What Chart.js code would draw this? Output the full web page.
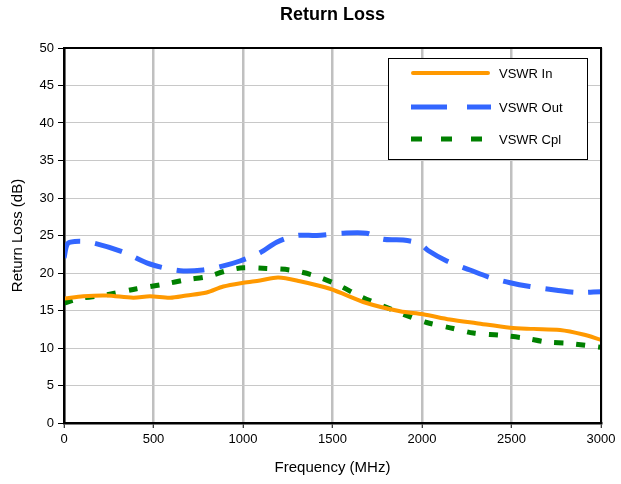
<!DOCTYPE html>
<html>
<head>
<meta charset="utf-8">
<script src="https://cdn.jsdelivr.net/npm/chart.js@4"></script>
<style>
  html, body { margin: 0; padding: 0; background: #fff; }
  #chart { display: block; }
</style>
</head>
<body>
<canvas id="chart" width="621" height="484"></canvas>
<script>
// 데이터
const chartTitle = 'Return Loss';
const xTitle = 'Frequency (MHz)';
const yTitle = 'Return Loss (dB)';

const inFreq = [5, 108, 238, 387, 480, 592, 685, 797, 890, 1002, 1095, 1197, 1318, 1486, 1690, 1877, 2006, 2156, 2305, 2492, 2622, 2771, 2901, 3000];
const inVals = [16.6, 16.9, 17.0, 16.7, 16.9, 16.7, 17.0, 17.4, 18.2, 18.7, 19.0, 19.4, 18.9, 17.9, 16.0, 14.9, 14.5, 13.8, 13.3, 12.7, 12.55, 12.4, 11.8, 11.1];

const outFreq = [0, 20, 60, 145, 330, 480, 650, 777, 890, 983, 1095, 1188, 1300, 1412, 1560, 1690, 1783, 1895, 1989, 2034, 2138, 2268, 2380, 2492, 2603, 2752, 2864, 3000];
const outVals = [22.0, 23.9, 24.2, 24.1, 22.8, 21.2, 20.3, 20.4, 20.95, 21.6, 22.7, 24.1, 25.0, 25.0, 25.3, 25.3, 24.5, 24.4, 23.9, 23.0, 21.6, 20.4, 19.4, 18.7, 18.2, 17.7, 17.4, 17.5];

const cplFreq = [0, 89, 238, 406, 555, 685, 797, 909, 1002, 1132, 1263, 1393, 1523, 1654, 1783, 1895, 2026, 2175, 2287, 2436, 2566, 2697, 2827, 3000];
const cplVals = [16.0, 16.6, 17.1, 17.9, 18.5, 19.1, 19.5, 20.3, 20.7, 20.6, 20.4, 19.7, 18.5, 16.9, 15.6, 14.5, 13.4, 12.6, 12.0, 11.7, 11.35, 10.8, 10.6, 10.1];

const seriesNames = ['VSWR In', 'VSWR Out', 'VSWR Cpl'];
const seriesColors = ['#FF9900', '#3366FF', '#008000'];

const FONT = '"Liberation Sans", Arial, sans-serif';

function toPoints(xs, ys) {
	return xs.map(function(x, i) { return { x: x, y: ys[i] }; });
}

// 제목, 테두리, 범례 그리기
const framePlugin = {
	id: 'frame',
	afterDraw: function(chart) {
		const ctx = chart.ctx;
		const a = chart.chartArea;
		ctx.save();
		// 제목
		ctx.fillStyle = '#000';
		ctx.font = 'bold 18px ' + FONT;
		ctx.textAlign = 'center';
		ctx.textBaseline = 'middle';
		ctx.fillText(chartTitle, (a.left + a.right) / 2, 15);

		// 플롯 테두리
		ctx.strokeStyle = '#000';
		ctx.lineWidth = 2;
		ctx.strokeRect(a.left, a.top, a.right - a.left, a.bottom - a.top);

		// 범례
		const bx = 388, by = 58, bw = 199, bh = 101;
		ctx.fillStyle = '#fff';
		ctx.fillRect(bx, by, bw, bh);
		ctx.lineWidth = 1;
		ctx.strokeRect(bx + 0.5, by + 0.5, bw, bh);
		const rows = [73, 107, 139];
		const dashes = [[], [36, 20], [11, 19]];
		const widths = [4, 5, 5];
		ctx.font = '13px ' + FONT;
		ctx.textAlign = 'left';
		for (let i = 0; i < 3; i++) {
			ctx.beginPath();
			ctx.setLineDash(dashes[i]);
			ctx.strokeStyle = seriesColors[i];
			ctx.lineWidth = widths[i];
			ctx.lineCap = i === 0 ? 'round' : 'butt';
			ctx.moveTo(i === 0 ? 413 : 411, rows[i]);
			ctx.lineTo(i === 0 ? 488 : 491, rows[i]);
			ctx.stroke();
			ctx.setLineDash([]);
			ctx.fillStyle = '#000';
			ctx.fillText(seriesNames[i], 499, rows[i] + 1);
		}
		ctx.restore();
	}
};

new Chart(document.getElementById('chart').getContext('2d'), {
	type: 'line',
	data: {
		datasets: [
			{
				label: seriesNames[0],
				data: toPoints(inFreq, inVals),
				borderColor: seriesColors[0],
				borderWidth: 4,
				pointRadius: 0,
				tension: 0.3,
				fill: false
			},
			{
				label: seriesNames[1],
				data: toPoints(outFreq, outVals),
				borderColor: seriesColors[1],
				borderWidth: 5,
				borderDash: [28, 15],
				pointRadius: 0,
				tension: 0.3,
				fill: false
			},
			{
				label: seriesNames[2],
				data: toPoints(cplFreq, cplVals),
				borderColor: seriesColors[2],
				borderWidth: 5,
				borderDash: [9, 13],
				pointRadius: 0,
				tension: 0.3,
				fill: false
			}
		]
	},
	options: {
		responsive: false,
		animation: false,
		layout: { padding: { top: 48, right: 20, left: 0, bottom: 0 } },
		plugins: {
			legend: { display: false },
			title: { display: false },
			tooltip: { enabled: false }
		},
		scales: {
			x: {
				type: 'linear',
				min: 0,
				max: 3000,
				ticks: {
					stepSize: 500, color: '#000', font: { family: FONT, size: 13 }, padding: 4, maxRotation: 0,
					callback: function(v) { return String(v); }
				},
				grid: { color: '#c0c0c0', lineWidth: 2.5, tickColor: '#000', tickLength: 5, tickWidth: 1 },
				border: { color: '#000', width: 2.5 },
				title: { display: true, text: xTitle, color: '#000', font: { family: FONT, size: 15 }, padding: { top: 0, bottom: 7 } },
				afterFit: function(scale) { scale.height = 61; }
			},
			y: {
				min: 0,
				max: 50,
				ticks: { stepSize: 5, color: '#000', font: { family: FONT, size: 13 }, padding: 4 },
				grid: { color: '#c8c8c8', lineWidth: 1, tickColor: '#000', tickLength: 6, tickWidth: 1 },
				border: { color: '#000', width: 2.5 },
				title: { display: true, text: yTitle, color: '#000', font: { family: FONT, size: 15 }, padding: { top: 9, bottom: 0 } },
				afterFit: function(scale) { scale.width = 64; }
			}
		}
	},
	plugins: [framePlugin]
});
</script>
</body>
</html>
